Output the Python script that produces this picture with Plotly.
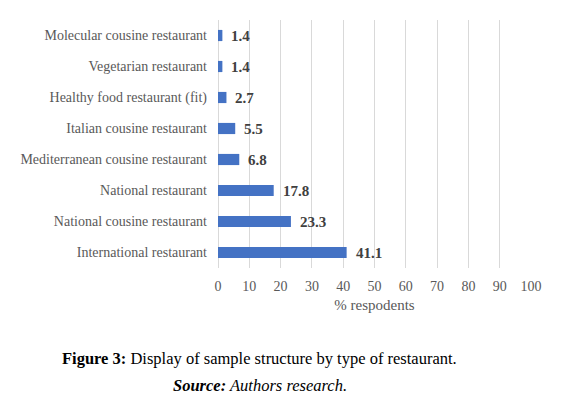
import plotly.graph_objects as go

categories = [
    "International restaurant",
    "National cousine restaurant",
    "National restaurant",
    "Mediterranean cousine restaurant",
    "Italian cousine restaurant",
    "Healthy food restaurant (fit)",
    "Vegetarian restaurant",
    "Molecular cousine restaurant",
]
values = [41.1, 23.3, 17.8, 6.8, 5.5, 2.7, 1.4, 1.4]
x_ticks = [0, 10, 20, 30, 40, 50, 60, 70, 80, 90, 100]

FONT = "Liberation Serif, Times New Roman, serif"

fig = go.Figure()
fig.add_trace(go.Bar(
    y=categories, x=values, orientation="h",
    marker=dict(color="#4472C4", line=dict(width=0)),
    width=0.36,
))

for c, v in zip(categories, values):
    fig.add_annotation(
        x=v, y=c, xref="x", yref="y", text=f"<b>{v}</b>",
        showarrow=False, xanchor="left", xshift=7,
        font=dict(family=FONT, size=15, color="#404040"),
    )

fig.add_annotation(
    x=0.5, y=-0.363, xref="paper", yref="paper",
    text="<b>Figure 3:</b> Display of sample structure by type of restaurant.",
    showarrow=False, xanchor="center", yanchor="middle",
    font=dict(family=FONT, size=16.5, color="black"),
    xshift=-115,
)
fig.add_annotation(
    x=0.5, y=-0.472, xref="paper", yref="paper",
    text="<b><i>Source:</i></b><i> Authors research.</i>",
    showarrow=False, xanchor="center", yanchor="middle",
    font=dict(family=FONT, size=16.5, color="black"),
    xshift=-115,
)

fig.update_layout(
    width=568, height=386,
    margin=dict(l=207, r=45, t=12, b=126),
    paper_bgcolor="white", plot_bgcolor="white",
    showlegend=False,
    font=dict(family=FONT, size=14, color="#595959"),
)
fig.update_xaxes(
    range=[0, 100], tickvals=x_ticks, ticktext=[str(t) for t in x_ticks],
    showgrid=True, gridcolor="#D9D9D9", gridwidth=1,
    zeroline=True, zerolinecolor="#D9D9D9", zerolinewidth=1,
    showline=False, ticks="", ticklabelstandoff=8,
    title=dict(text="% respodents", standoff=6, font=dict(family=FONT, size=15, color="#595959")),
    tickfont=dict(family=FONT, size=14, color="#595959"),
)
fig.update_yaxes(
    showgrid=False, zeroline=False, showline=False, ticks="",
    ticklabelstandoff=10,
    tickfont=dict(family=FONT, size=14, color="#595959"),
)

fig.write_html("out.html")
